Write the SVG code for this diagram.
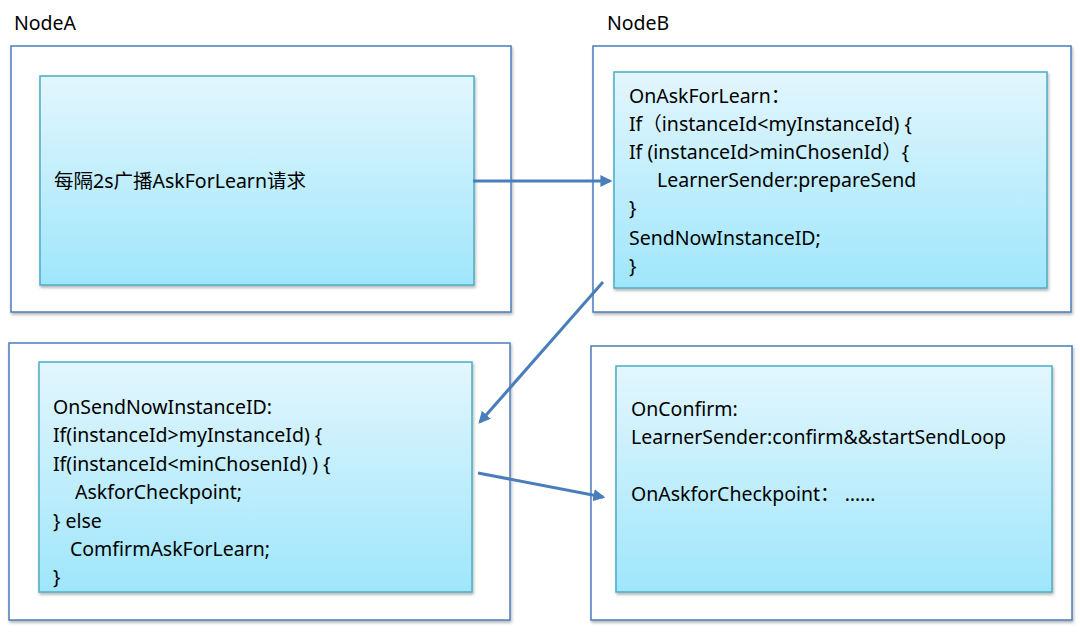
<svg xmlns="http://www.w3.org/2000/svg" width="1080" height="632" viewBox="0 0 1080 632">
<defs>
<linearGradient id="g" x1="0" y1="0" x2="0" y2="1"><stop offset="0" stop-color="#e3f6fd"/><stop offset="1" stop-color="#9fe6fb"/></linearGradient>
<marker id="ah" viewBox="0 0 10 10" refX="8" refY="5" markerWidth="4" markerHeight="4" orient="auto"><path d="M0,0L10,5L0,10z" fill="#4a7ebb"/></marker>
<filter id="sh" x="-5%" y="-5%" width="110%" height="115%"><feDropShadow dx="1" dy="2" stdDeviation="1.5" flood-color="#000" flood-opacity="0.3"/></filter>
</defs>
<style>
.outer{fill:#fff;stroke:#4a7ebb;stroke-width:1.5;filter:url(#sh)}
.inner{fill:url(#g);stroke:#4bacc6;stroke-width:1.5;filter:url(#sh)}
text{font-family:"Noto Sans","Noto Sans CJK SC",sans-serif;font-size:19.5px;fill:#000}
.c{stroke:#4a7ebb;stroke-width:3;fill:none;marker-end:url(#ah)}
</style>
<rect width="1080" height="632" fill="#fff"/>
<text x="14" y="30">NodeA</text>
<text x="607" y="30">NodeB</text>
<g id="nodeA1"><rect class="outer" x="11" y="46" width="500" height="266"/><rect class="inner" x="40" y="76" width="434" height="209"/>
<text x="54" y="188">每隔2s广播AskForLearn请求</text></g>
<g id="nodeB1"><rect class="outer" x="593" y="46" width="478" height="266"/><rect class="inner" x="614" y="72" width="433" height="216"/>
<text x="629" y="103">OnAskForLearn：</text>
<text x="629" y="131">If（instanceId&lt;myInstanceId) {</text>
<text x="629" y="159">If (instanceId&gt;minChosenId）{</text>
<text x="657" y="187">LearnerSender:prepareSend</text>
<text x="629" y="215">}</text>
<text x="629" y="245">SendNowInstanceID;</text>
<text x="629" y="273">}</text></g>
<g id="nodeA2"><rect class="outer" x="9" y="343" width="501" height="277"/><rect class="inner" x="39" y="362" width="433" height="230"/>
<text x="53" y="414">OnSendNowInstanceID:</text>
<text x="53" y="442">If(instanceId&gt;myInstanceId) {</text>
<text x="53" y="471">If(instanceId&lt;minChosenId) ) {</text>
<text x="75" y="499">AskforCheckpoint;</text>
<text x="53" y="528">} else</text>
<text x="70" y="556">ComfirmAskForLearn;</text>
<text x="53" y="584">}</text></g>
<g id="nodeB2"><rect class="outer" x="591" y="346" width="481" height="274"/><rect class="inner" x="616" y="366" width="436" height="226"/>
<text x="631" y="416">OnConfirm:</text>
<text x="631" y="444">LearnerSender:confirm&amp;&amp;startSendLoop</text>
<text x="631" y="501">OnAskforCheckpoint：  ……</text></g>
<g id="connectors">
<path class="c" d="M473,181L610,181"/>
<path class="c" d="M603,282L480,422"/>
<path class="c" d="M478,473L603,497"/>
</g>
</svg>
